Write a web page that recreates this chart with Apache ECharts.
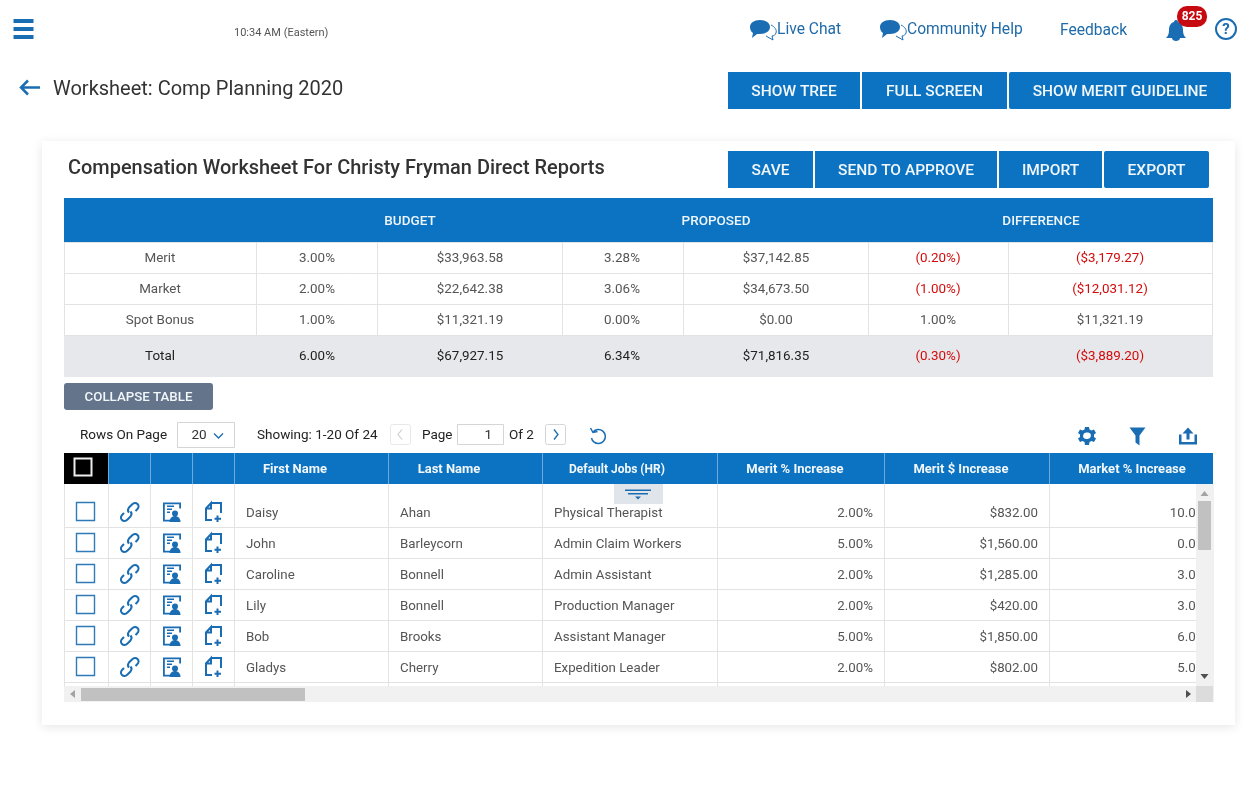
<!DOCTYPE html>
<html><head><meta charset="utf-8">
<style>html,body{margin:0;padding:0;background:#fff}#c{width:1256px;height:804px}</style>
<script src="https://cdn.jsdelivr.net/npm/echarts@6/dist/echarts.min.js"></script>
</head><body><div id="c"></div>
<script>
// ---- data
const summaryHeads = ['BUDGET','PROPOSED','DIFFERENCE'];
const summaryLabels = ['Merit','Market','Spot Bonus','Total'];
const budgetPct = ['3.00%','2.00%','1.00%','6.00%'];
const budgetAmt = ['$33,963.58','$22,642.38','$11,321.19','$67,927.15'];
const proposedPct = ['3.28%','3.06%','0.00%','6.34%'];
const proposedAmt = ['$37,142.85','$34,673.50','$0.00','$71,816.35'];
const diffPct = ['(0.20%)','(1.00%)','1.00%','(0.30%)'];
const diffAmt = ['($3,179.27)','($12,031.12)','$11,321.19','($3,889.20)'];
const gridHeads = ['First Name','Last Name','Default Jobs (HR)','Merit % Increase','Merit $ Increase','Market % Increase'];
const firstNames = ['Daisy','John','Caroline','Lily','Bob','Gladys'];
const lastNames = ['Ahan','Barleycorn','Bonnell','Bonnell','Brooks','Cherry'];
const jobs = ['Physical Therapist','Admin Claim Workers','Admin Assistant','Production Manager','Assistant Manager','Expedition Leader'];
const meritPct = ['2.00%','5.00%','2.00%','2.00%','5.00%','2.00%'];
const meritAmt = ['$832.00','$1,560.00','$1,285.00','$420.00','$1,850.00','$802.00'];
const marketPct = ['10.00%','0.00%','3.00%','3.00%','6.00%','5.00%'];
// ---- layout
const BLUE='#0b73c1', ICON='#1a6db3', LINK='#1f6aa8', F='Roboto';
const els=[];
let z=1;
const shapeNames={};
const shapeFor=d=>{
  if(!shapeNames[d]){
    const n='icon'+Object.keys(shapeNames).length;
    echarts.graphic.registerShape(n,echarts.graphic.extendPath(d,{}));
    shapeNames[d]=n;
  }
  return shapeNames[d];
};
const rect=(x,y,w,h,fill,o={})=>els.push({type:'rect',z:z++,shape:{x,y,width:w,height:h,r:o.r||0},style:{fill:fill,stroke:o.stroke||null,lineWidth:o.lw||1,shadowBlur:o.blur||0,shadowColor:o.sc||'transparent',shadowOffsetY:o.oy||0}});
const txt=(s,x,y,o={})=>els.push({type:'text',z:z++,x,y:y+1,style:{text:s,fill:o.c||'#555',font:`${o.w||400} ${o.s||13}px ${F}`,textAlign:o.a||'left',textVerticalAlign:'middle'}});
const line=(x1,y1,x2,y2,c='#e3e3e3',lw=1)=>els.push({type:'line',z:z++,shape:{x1,y1,x2,y2},style:{stroke:c,lineWidth:lw}});
const path=(d,x,y,o={})=>els.push({type:shapeFor(d),z:z++,x,y,style:{fill:o.fill||'none',stroke:o.stroke||'none',lineWidth:o.lw||1.5}});
const btn=(s,x1,x2,y1,y2,o={})=>{rect(x1,y1,x2-x1,y2-y1,o.bg||BLUE,{r:o.r||0});txt(s,(x1+x2)/2,(y1+y2)/2+(o.dy===undefined?1:o.dy),{c:'#f2f7fb',s:o.s||15.5,w:500,a:'center'});};

// top bar
[19,27,35].forEach(y=>rect(13.500,y,20,4,ICON));
txt('10:34 AM (Eastern)',234,32,{s:11,c:'#555'});
const chat=(x,y)=>{
  path('M10 0C16 0 20 3 20 7C20 11 16 14 10 14L7 14L2 18L3 13C1 12 0 9 0 7C0 3 4 0 10 0Z',x,y,{fill:ICON});
  path('M21 5C25 7 27 10 26 13C25 15 24 16 22 16L23 20L16 16',x,y,{stroke:ICON,lw:1});
};
chat(750,20); txt('Live Chat',777,29,{s:15.6,c:LINK});
chat(880,20); txt('Community Help',907,29,{s:15.6,c:LINK});
txt('Feedback',1060,30,{s:15.6,c:LINK});
path('M10 0C11.500 0 12 1 12 2C16 3 17 7 17 10C17 14 18 16 20 18L0 18C2 16 3 14 3 10C3 7 4 3 8 2C8 1 8.500 0 10 0Z',1166,20,{fill:ICON});
path('M6 20L14 20C14 22 12 23 10 23C8 23 6 22 6 20Z',1166,18,{fill:ICON});
rect(1177,6,30,21,'#c60a0f',{r:10});
txt('825',1192,15.5,{s:12,c:'#fff',w:700,a:'center'});
els.push({type:'circle',z:z++,shape:{cx:1226,cy:29,r:10},style:{fill:'none',stroke:ICON,lineWidth:2}});
txt('?',1226,29,{s:15,c:ICON,w:700,a:'center'});

// page title
path('M8 1L1 8L8 15M1 8L20 8',20,79.500,{stroke:ICON,lw:2.5});
txt('Worksheet: Comp Planning 2020',53,88.500,{s:20,c:'#333'});
btn('SHOW TREE',728,860,72,109);
btn('FULL SCREEN',862,1007,72,109);
btn('SHOW MERIT GUIDELINE',1009,1231,72,109,{r:2});

// card
rect(42,141,1193,584,'#fff',{blur:10,sc:'rgba(0,0,0,0.10)',oy:2});
txt('Compensation Worksheet For Christy Fryman Direct Reports',68,168,{s:19.95,c:'#333',w:500});
btn('SAVE',728,813,151,188);
btn('SEND TO APPROVE',815,997,151,188);
btn('IMPORT',999,1102,151,188);
btn('EXPORT',1104,1209,151,188,{r:2});

// summary table
rect(64,198,1149,44,BLUE);
[410,716,1041].forEach((x,i)=>txt(summaryHeads[i],x,220.500,{c:'#eef5fb',s:13.5,w:500,a:'center'}));
const sumX=[64,256,377,562,683,868,1008,1212];
const sumCx=[160,317,470,622,776,938,1110];
const sumY=[257.500,288.500,319.500,355.500];
rect(64,335,1149,42,'#e6e8eb');
[242,273,304,335].forEach(y=>line(64,y+.5,1213,y+.5));
sumX.forEach(x=>line(x+.5,242,x+.5,335));
const isNeg=s=>s.startsWith('(');
summaryLabels.forEach((l,i)=>{
  const total=i===3, base=total?'#222':'#555', s=13.4;
  txt(l,sumCx[0],sumY[i],{c:base,a:'center',s});
  txt(budgetPct[i],sumCx[1],sumY[i],{c:base,a:'center',s});
  txt(budgetAmt[i],sumCx[2],sumY[i],{c:base,a:'center',s});
  txt(proposedPct[i],sumCx[3],sumY[i],{c:base,a:'center',s});
  txt(proposedAmt[i],sumCx[4],sumY[i],{c:base,a:'center',s});
  txt(diffPct[i],sumCx[5],sumY[i],{c:isNeg(diffPct[i])?'#d40b0b':base,a:'center',s});
  txt(diffAmt[i],sumCx[6],sumY[i],{c:isNeg(diffAmt[i])?'#d40b0b':base,a:'center',s});
});
btn('COLLAPSE TABLE',64,213,383,410,{bg:'#64748a',r:3,s:13.3,dy:0});

// toolbar
txt('Rows On Page',80,434.500,{s:13.5,c:'#222'});
rect(177.500,422.500,57,25,'#fff',{stroke:'#d5d5d5'});
txt('20',199,435,{s:13.5,c:'#333',a:'center'});
path('M0 0L4.500 4.500L9 0',214,433.500,{stroke:ICON,lw:1.3});
txt('Showing: 1-20 Of 24',257,434.500,{s:13.5,c:'#222'});
rect(390.500,424.500,20,20,'#fff',{stroke:'#e8e8e8',r:2});
path('M4 0L0 5L4 10',398,429.500,{stroke:'#cfcfcf',lw:1.2});
txt('Page',422,434.500,{s:13.5,c:'#222'});
rect(457.500,424.500,46,20,'#fff',{stroke:'#d5d5d5'});
txt('1',492,434.500,{s:13.5,c:'#333',a:'right'});
txt('Of 2',509,434.500,{s:13.5,c:'#222'});
rect(545.500,424.500,20,20,'#fff',{stroke:'#d5d5d5',r:2});
path('M0 0L4 5L0 10',554,429.500,{stroke:ICON,lw:1.3});
path('M3 4A7 7 0 1 1 1.500 10M0.500 0L3 4.500L7.500 3.500',590,428,{stroke:ICON,lw:1.5});
// gear
path('M7 0L11 0L11.500 2.500L13.500 3.500L16 2.500L18 6L16 7.500L16 10L18 11.500L16 15L13.500 14L11.500 15L11 18L7 18L6.500 15L4.500 14L2 15L0 11.500L2 10L2 7.500L0 6L2 2.500L4.500 3.500L6.500 2.500Z M9 5.500A3.300 3.300 0 1 0 9 12A3.300 3.300 0 1 0 9 5.500Z',1078,427,{fill:ICON});
path('M0 0L16 0L10 8L10 18L6 15L6 8Z',1129.500,427.500,{fill:ICON});
path('M0 7L0 17L18 17L18 7L15.500 7L15.500 14.500L2.500 14.500L2.500 7Z M9 0L14.500 6L10.500 6L10.500 12L7.500 12L7.500 6L3.500 6Z',1179,427.500,{fill:ICON});

// grid
const colX=[64,108,150,192,234,388,542,717,884,1049,1214];
const headCx=[295,449,617,795,961,1132];
const headSize=[13,13,12,13,13,13];
rect(64,453,1149,31,BLUE);
rect(64,453,44,31,'#000');
rect(74.500,458.500,17,17,'none',{stroke:'#eee',lw:2});
colX.slice(1,-1).forEach(x=>line(x+.5,453,x+.5,484,'#6ea9d8'));
gridHeads.forEach((h,i)=>txt(h,headCx[i],468.500,{c:'#f2f7fb',s:headSize[i],w:700,a:'center'}));
const rowBottoms=[527,558,589,620,651,682];
const rowY=[512,543,574,605,636,667];
rowBottoms.forEach(y=>line(64,y+.5,1196,y+.5));
colX.slice(0,-1).forEach(x=>line(x+.5,484,x+.5,686));
firstNames.forEach((n,i)=>{
  const y=rowY[i], s=13.3;
  rect(76.500,y-9.500,18,18,'#fff',{stroke:'#2f7ab8',lw:1.4});
  // link icon
  path('M3 10L1.500 11.500C-0.500 13.500 -0.500 15.500 1 17C2.500 18.500 4.500 18.500 6.500 16.500L9.500 13.500C11 11.500 11 10 9.500 8.500M14.500 8L16 6.500C18 4.500 18 2.500 16.500 1C15 -0.500 13 -0.500 11 1.500L8 4.500C6.500 6.500 6.500 8 8 9.500',121,y-9,{stroke:ICON,lw:2});
  // person doc icon
  path('M18 6L18 0L0 0L0 19L7 19L7 17.200L1.800 17.200L1.800 1.800L16.200 1.800L16.200 6Z',163,y-9.500,{fill:ICON});
  rect(167,y-6.500,7,1.500,ICON);rect(167,y-3.500,5,1.500,ICON);rect(167,y-.5,3,1.500,ICON);
  els.push({type:'circle',z:z++,shape:{cx:175,cy:y+1.500,r:3},style:{fill:ICON}});
  path('M0 6C0 2 3 0 5.500 0C8 0 11 2 11 6Z',169.500,y+4,{fill:ICON});
  // new doc icon
  path('M6 0L16 0L16 10M7 17L1 17L1 5.500L6 0L6 5.500L1 5.500',205,y-9,{stroke:ICON,lw:2});
  path('M12.500 12.500L12.500 19M9.500 15.750L16 15.750',205,y-9,{stroke:ICON,lw:2});
  txt(n,246,y+1,{s});
  txt(lastNames[i],400,y+1,{s});
  txt(jobs[i],554,y+1,{s});
  txt(meritPct[i],873,y+1,{s,a:'right'});
  txt(meritAmt[i],1038,y+1,{s,a:'right'});
  txt(marketPct[i],1213,y+1,{s,a:'right'});
});
// collapse tab
rect(614,484,49,20,'#dfe5ea');
rect(625,489.500,26,1.500,ICON);rect(628,493,20,1.500,ICON);
path('M0 0L6 0L3 3Z',635,496.500,{fill:ICON});
// scrollbars
rect(1196,484,18,218,'#f1f1f1');
rect(1198,501,13,49,'#c1c1c1');
path('M0 5L4 0L8 5Z',1200.500,491,{fill:'#a3a3a3'});
path('M0 0L8 0L4 5Z',1200.500,674,{fill:'#505050'});
rect(64,686,1132,16,'#f1f1f1');
rect(81,688,224,13,'#c1c1c1');
path('M5 0L0 4L5 8Z',70,690,{fill:'#a3a3a3'});
path('M0 0L5 4L0 8Z',1186,690,{fill:'#505050'});
rect(1196,686,17,16,'#dcdcdc');

const chart=echarts.init(document.getElementById('c'),null,{renderer:'canvas'});
chart.setOption({animation:false,graphic:{elements:els}});
</script></body></html>
